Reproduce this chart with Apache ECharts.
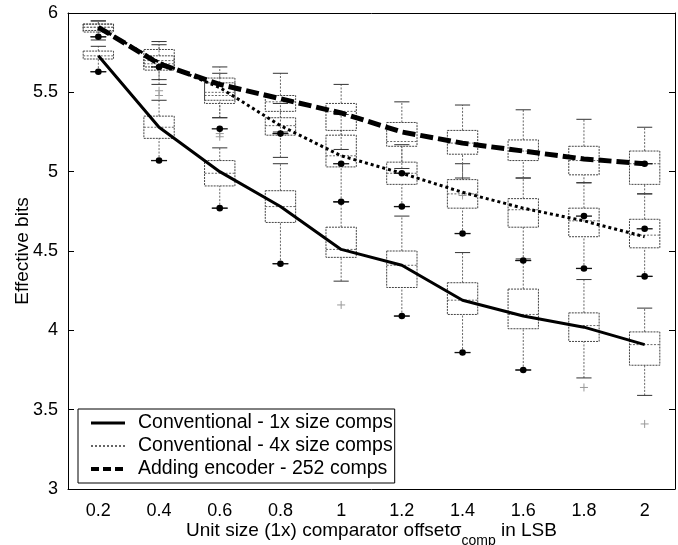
<!DOCTYPE html>
<html><head><meta charset="utf-8">
<script src="https://cdn.jsdelivr.net/npm/echarts@6/dist/echarts.min.js"></script>
<style>html,body{margin:0;padding:0;background:#fff}#c{width:678px;height:545px}</style>
</head><body><div id="c"></div>
<script>
var categories = ['0.2','0.4','0.6','0.8','1','1.2','1.4','1.6','1.8','2'];
var seriesNames = ['Conventional - 1x size comps','Conventional - 4x size comps','Adding encoder - 252 comps'];
var conv1xLine  = [5.73,5.28,5.00,4.78,4.51,4.41,4.19,4.09,4.02,3.91];
var conv4xLine  = [5.91,5.69,5.53,5.29,5.10,4.99,4.87,4.77,4.69,4.59];
var encoderLine = [5.91,5.68,5.55,5.46,5.37,5.25,5.18,5.13,5.08,5.05];
// boxes: [low whisker, q1, median, q3, high whisker]
var conv1xBoxes = [
  [5.63,5.71,5.73,5.76,5.79],[5.07,5.21,5.28,5.35,5.45],[4.77,4.91,4.99,5.07,5.15],
  [4.42,4.68,4.78,4.88,5.05],[4.31,4.46,4.51,4.65,4.81],[4.09,4.27,4.41,4.50,4.72],
  [3.86,4.10,4.19,4.30,4.49],[3.75,4.01,4.10,4.26,4.45],[3.70,3.93,4.03,4.11,4.32],
  [3.59,3.78,3.91,3.99,4.14]];
var conv4xBoxes = [
  [5.83,5.88,5.91,5.93,5.95],[5.55,5.64,5.68,5.73,5.80],[5.34,5.43,5.48,5.56,5.62],
  [5.09,5.23,5.29,5.34,5.43],[4.81,5.03,5.10,5.23,5.36],[4.78,4.92,4.99,5.06,5.17],
  [4.61,4.77,4.86,4.95,5.05],[4.44,4.65,4.76,4.83,4.96],[4.39,4.59,4.69,4.77,4.93],
  [4.34,4.52,4.60,4.70,4.86]];
var encoderBoxes = [
  [5.85,5.89,5.91,5.93,5.95],[5.58,5.66,5.70,5.77,5.82],[5.34,5.45,5.50,5.59,5.66],
  [5.25,5.38,5.44,5.48,5.62],[5.14,5.26,5.38,5.43,5.55],[5.02,5.16,5.19,5.31,5.44],
  [4.96,5.11,5.18,5.26,5.42],[4.96,5.07,5.13,5.20,5.39],[4.93,4.98,5.07,5.16,5.33],
  [4.86,4.92,5.05,5.13,5.28]];
// filled markers [category index, value]
var dotPoints = [
  [0,5.85],[0,5.63],[1,5.66],[1,5.07],[2,5.27],[2,4.77],[3,5.24],[3,4.42],
  [4,5.05],[4,4.81],[5,4.99],[5,4.78],[5,4.09],[6,4.61],[6,3.86],[7,4.44],[7,3.75],
  [8,4.72],[8,4.39],[9,5.05],[9,4.64],[9,4.34]];
// '+' outliers [category index, value]
var outlierPoints = [[1,5.48],[1,5.51],[2,5.22],[2,5.24],[4,4.16],[6,4.85],[8,3.64],[9,3.41]];

var FONT = '"Liberation Sans", Arial, Helvetica, sans-serif';

function boxRender(params, api) {
  var i = api.value(0);
  var pLo = api.coord([i, api.value(1)]);
  var pQ1 = api.coord([i, api.value(2)]);
  var pMed = api.coord([i, api.value(3)]);
  var pQ3 = api.coord([i, api.value(4)]);
  var pHi = api.coord([i, api.value(5)]);
  var band = api.size([1, 0])[0];
  var hw = band * 0.25, cw = band * 0.125;
  var x = pLo[0];
  var dash = {stroke: '#666', lineWidth: 1, lineDash: [2, 1.5], fill: null};
  var solid = {stroke: '#333', lineWidth: 1, fill: null};
  return {type: 'group', children: [
    {type: 'line', shape: {x1: x, y1: pLo[1], x2: x, y2: pQ1[1]}, style: dash},
    {type: 'line', shape: {x1: x, y1: pQ3[1], x2: x, y2: pHi[1]}, style: dash},
    {type: 'line', shape: {x1: x - cw, y1: pLo[1], x2: x + cw, y2: pLo[1]}, style: solid},
    {type: 'line', shape: {x1: x - cw, y1: pHi[1], x2: x + cw, y2: pHi[1]}, style: solid},
    {type: 'rect', shape: {x: x - hw, y: pQ3[1], width: 2 * hw, height: pQ1[1] - pQ3[1]},
      style: {stroke: '#444', lineWidth: 1, lineDash: [2, 1], fill: 'rgba(0,0,0,0)'}},
    {type: 'line', shape: {x1: x - hw, y1: pMed[1], x2: x + hw, y2: pMed[1]}, style: dash}
  ]};
}
function dotRender(params, api) {
  var p = api.coord([api.value(0), api.value(1)]);
  return {type: 'group', children: [
    {type: 'line', shape: {x1: p[0] - 8, y1: p[1], x2: p[0] + 8, y2: p[1]}, style: {stroke: '#111', lineWidth: 1.3}},
    {type: 'circle', shape: {cx: p[0], cy: p[1], r: 3.3}, style: {fill: '#000'}}
  ]};
}
function plusRender(params, api) {
  var p = api.coord([api.value(0), api.value(1)]);
  var st = {stroke: '#999', lineWidth: 1};
  return {type: 'group', children: [
    {type: 'line', shape: {x1: p[0] - 4, y1: p[1], x2: p[0] + 4, y2: p[1]}, style: st},
    {type: 'line', shape: {x1: p[0], y1: p[1] - 4, x2: p[0], y2: p[1] + 4}, style: st}
  ]};
}
function boxData(b) { return b.map(function (v, i) { return [i].concat(v); }); }

var hiddenSymbol = {color: 'rgba(0,0,0,0)', borderColor: 'rgba(0,0,0,0)', borderWidth: 0};

var chart = echarts.init(document.getElementById('c'), null, {renderer: 'canvas'});
chart.setOption({
  animation: false,
  backgroundColor: '#fff',
  grid: {left: 68, right: 3, top: 13, bottom: 56, containLabel: false, outerBoundsMode: 'none'},
  legend: {
    orient: 'vertical', left: 78, top: 409,
    backgroundColor: '#fff', borderColor: '#000', borderWidth: 1, borderRadius: 0,
    padding: [4, 2, 4, 11], itemWidth: 34, itemHeight: 14, itemGap: 3,
    textStyle: {fontSize: 19.5, color: '#000', fontFamily: FONT, padding: [0, 0, 0, 8]},
    data: [
      {name: seriesNames[0], itemStyle: hiddenSymbol, lineStyle: {width: 3, color: '#000'}},
      {name: seriesNames[1], itemStyle: hiddenSymbol, lineStyle: {width: 1.2, type: [2, 2], color: '#000'}},
      {name: seriesNames[2], itemStyle: hiddenSymbol, lineStyle: {width: 4, type: [8, 4], color: '#000'}}
    ]
  },
  xAxis: [{
    type: 'category', data: categories, boundaryGap: true,
    axisLine: {lineStyle: {color: '#000', width: 1}},
    axisTick: {inside: true, alignWithLabel: true, length: 6, lineStyle: {color: '#000'}},
    axisLabel: {color: '#000', fontSize: 18, margin: 13, fontFamily: FONT},
    splitLine: {show: false},
    name: 'Unit size (1x) comparator offset{g|σ}{sub|comp} in LSB',
    nameLocation: 'middle', nameGap: 32, nameMoveOverlap: false,
    nameTextStyle: {
      color: '#000', fontSize: 19, fontFamily: FONT,
      rich: {
        g: {fontSize: 19, color: '#000', fontFamily: FONT, verticalAlign: 'top', lineHeight: 20},
        sub: {fontSize: 14, color: '#000', fontFamily: FONT, verticalAlign: 'top', padding: [13, 0, 0, 0], lineHeight: 14}
      }
    }
  }, {
    type: 'category', data: categories, boundaryGap: true, position: 'top',
    axisLine: {lineStyle: {color: '#000', width: 1}},
    axisTick: {inside: true, alignWithLabel: true, length: 6, lineStyle: {color: '#000'}},
    axisLabel: {show: false}, splitLine: {show: false}
  }],
  yAxis: [{
    type: 'value', min: 3, max: 6, interval: 0.5,
    axisLine: {show: true, lineStyle: {color: '#000', width: 1}},
    axisTick: {show: true, inside: true, length: 6, lineStyle: {color: '#000'}},
    axisLabel: {color: '#000', fontSize: 18, margin: 10, fontFamily: FONT},
    splitLine: {show: false},
    name: 'Effective bits', nameLocation: 'middle', nameGap: 36, nameRotate: 90, nameMoveOverlap: false,
    nameTextStyle: {color: '#000', fontSize: 19, fontFamily: FONT}
  }, {
    type: 'value', min: 3, max: 6, interval: 0.5, position: 'right',
    axisLine: {show: true, lineStyle: {color: '#000', width: 1}},
    axisTick: {show: true, inside: true, length: 6, lineStyle: {color: '#000'}},
    axisLabel: {show: false}, splitLine: {show: false}
  }],
  series: [
    {type: 'custom', renderItem: boxRender, data: boxData(conv1xBoxes), encode: {x: 0, y: [1, 2, 3, 4, 5]}, z: 1, silent: true},
    {type: 'custom', renderItem: boxRender, data: boxData(conv4xBoxes), encode: {x: 0, y: [1, 2, 3, 4, 5]}, z: 1, silent: true},
    {type: 'custom', renderItem: boxRender, data: boxData(encoderBoxes), encode: {x: 0, y: [1, 2, 3, 4, 5]}, z: 1, silent: true},
    {type: 'custom', renderItem: plusRender, data: outlierPoints, encode: {x: 0, y: 1}, z: 2, silent: true},
    {type: 'custom', renderItem: dotRender, data: dotPoints, encode: {x: 0, y: 1}, z: 3, silent: true},
    {name: seriesNames[0], type: 'line', data: conv1xLine, symbol: 'none', z: 4,
      lineStyle: {color: '#000', width: 3}, itemStyle: {color: '#000'}},
    {name: seriesNames[1], type: 'line', data: conv4xLine, symbol: 'none', z: 4,
      lineStyle: {color: '#000', width: 3, type: [3, 3]}, itemStyle: {color: '#000'}},
    {name: seriesNames[2], type: 'line', data: encoderLine, symbol: 'none', z: 4,
      lineStyle: {color: '#000', width: 5, type: [13, 5]}, itemStyle: {color: '#000'}}
  ]
});
</script>
</body></html>
